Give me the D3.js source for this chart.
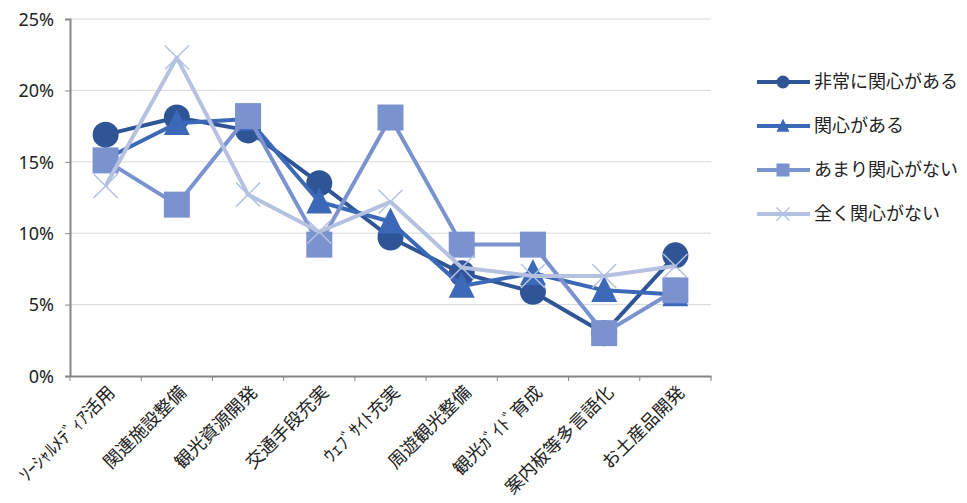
<!DOCTYPE html>
<html><head><meta charset="utf-8">
<script src="https://cdn.jsdelivr.net/npm/d3@7"></script>
<style>
html,body{margin:0;padding:0;background:#fff;}
text{font-family:"Noto Sans CJK JP","Noto Sans",sans-serif;fill:#222;}
</style></head>
<body><svg id="c" width="967" height="503"></svg>
<script>
const categories = ["ｿｰｼｬﾙﾒﾃﾞｨｱ活用","関連施設整備","観光資源開発","交通手段充実","ｳｪﾌﾞｻｲﾄ充実","周遊観光整備","観光ｶﾞｲﾄﾞ育成","案内板等多言語化","お土産品開発"];
const seriesNames = ["非常に関心がある","関心がある","あまり関心がない","全く関心がない"];
const s1 = [16.9, 18.1, 17.2, 13.5, 9.7, 7.2, 5.9, 3.0, 8.45];
const s2 = [15.2, 17.7, 18.0, 12.2, 10.8, 6.3, 7.2, 6.0, 5.7];
const s3 = [15.1, 12.0, 18.2, 9.2, 18.1, 9.2, 9.2, 3.0, 6.0];
const s4 = [13.3, 22.3, 12.7, 10.1, 12.2, 7.6, 7.0, 7.0, 7.7];
const yTicks = [0, 5, 10, 15, 20, 25];

const colors = ["#2F5597", "#3B69B8", "#7A93CE", "#B4C1E1"];
const shapes = ["circle", "triangle", "square", "cross"];
const data = [s1, s2, s3, s4];

const svg = d3.select("#c");
const x0 = 70, x1 = 711, yTop = 19, yBot = 376;
const x = d3.scaleBand().domain(categories).range([x0, x1]);
const y = d3.scaleLinear().domain([0, 25]).range([yBot, yTop]);

// gridlines
svg.append("g").selectAll("line").data(yTicks.slice(1)).join("line")
  .attr("x1", x0).attr("x2", x1)
  .attr("y1", d => y(d)).attr("y2", d => y(d))
  .attr("stroke", "#d9d9d9").attr("stroke-width", 1);

// y axis
const ya = svg.append("g").attr("transform", `translate(${x0},0)`)
  .call(d3.axisLeft(y).tickValues(yTicks).tickFormat(d => d + "%").tickSize(5).tickPadding(11));
ya.select(".domain").attr("stroke", "#868686").attr("stroke-width", 2);
ya.selectAll(".tick line").attr("stroke", "#868686");
ya.selectAll("text").style("font-size", "18px").style("font-family", "'Noto Sans','DejaVu Sans',sans-serif").attr("fill", "#222").attr("dy", "0.35em");

// x axis
const xa = svg.append("g").attr("transform", `translate(0,${yBot})`)
  .call(d3.axisBottom(x).tickSize(0).tickFormat(""));
xa.select(".domain").attr("stroke", "#868686").attr("stroke-width", 2);
// boundary ticks
const bounds = categories.map(c => x(c)).concat([x1]);
svg.append("g").selectAll("line").data(bounds).join("line")
  .attr("x1", d => d).attr("x2", d => d).attr("y1", yBot).attr("y2", yBot + 5)
  .attr("stroke", "#868686").attr("stroke-width", 1);

// x labels
svg.append("g").selectAll("text").data(categories).join("text")
  .attr("transform", d => `translate(${x(d) + x.bandwidth()/2 + 6},${yBot + 13}) rotate(-45)`)
  .attr("text-anchor", "end").attr("dy", "0.35em")
  .style("font-size", "18px").text(d => d);

function drawMarker(g, shape, color, cx, cy, s) {
  if (shape === "circle") {
    g.append("circle").attr("cx", cx).attr("cy", cy).attr("r", s/2).attr("fill", color);
  } else if (shape === "triangle") {
    const h = s;
    g.append("path").attr("d", `M${cx},${cy - h*0.55}L${cx + s/2},${cy + h*0.45}L${cx - s/2},${cy + h*0.45}Z`).attr("fill", color);
  } else if (shape === "square") {
    g.append("rect").attr("x", cx - s/2).attr("y", cy - s/2).attr("width", s).attr("height", s).attr("fill", color);
  } else {
    const r = s/2;
    g.append("path").attr("d", `M${cx-r},${cy-r}L${cx+r},${cy+r}M${cx+r},${cy-r}L${cx-r},${cy+r}`)
      .attr("stroke", color).attr("stroke-width", 1.5).attr("fill", "none");
  }
}

const line = d3.line().x((d, i) => x(categories[i]) + x.bandwidth()/2).y(d => y(d));
const sizes = [26, 26, 26, 24];
data.forEach((vals, si) => {
  const g = svg.append("g");
  g.append("path").attr("d", line(vals)).attr("fill", "none")
    .attr("stroke", colors[si]).attr("stroke-width", 4).attr("stroke-linejoin", "round");
  vals.forEach((v, i) => drawMarker(g, shapes[si], colors[si], x(categories[i]) + x.bandwidth()/2, y(v), sizes[si]));
});

// legend
const lg = svg.append("g");
seriesNames.forEach((n, i) => {
  const ly = 82 + i * 44;
  lg.append("line").attr("x1", 757).attr("x2", 810).attr("y1", ly).attr("y2", ly)
    .attr("stroke", colors[i]).attr("stroke-width", 4);
  drawMarker(lg, shapes[i], colors[i], 783, ly, 13);
  lg.append("text").attr("x", 814).attr("y", ly).attr("dy", "0.35em")
    .style("font-size", "18px").text(n);
});
</script></body></html>
